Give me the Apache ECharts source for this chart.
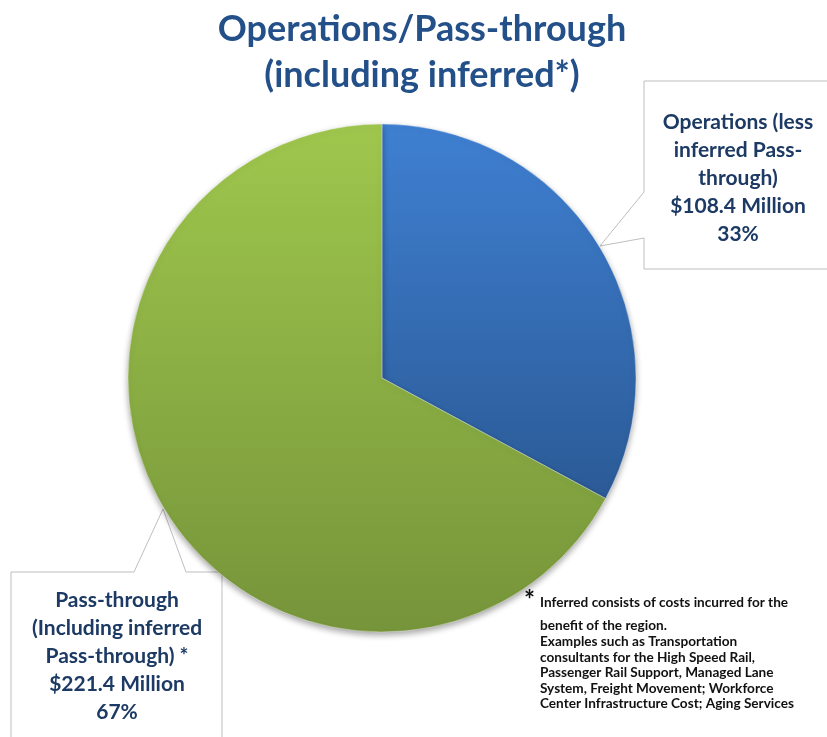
<!DOCTYPE html>
<html>
<head>
<meta charset="utf-8">
<script src="https://cdn.jsdelivr.net/npm/echarts@6/dist/echarts.min.js"></script>
<style>
  html, body { margin: 0; padding: 0; background: #fff; }
  #main { width: 827px; height: 737px; }
</style>
</head>
<body>
<div id="main"></div>
<script>
// slice data
var names = ['Operations (less\ninferred Pass-\nthrough)', 'Pass-through\n(Including inferred\nPass-through) *'];
var values = [108.4, 221.4];
var topColors = ['#3f80d2', '#9fc74d'];
var bottomColors = ['#2b5a96', '#76943a'];

var footLines = [
    'Inferred consists of costs incurred for the',
    'benefit of the region.',
    'Examples such as Transportation',
    'consultants for the High Speed Rail,',
    'Passenger Rail Support, Managed Lane',
    'System, Freight Movement; Workforce',
    'Center Infrastructure Cost; Aging Services'
];

var labelPos = [[738, 178], [117, 656]];

var myChart = echarts.init(document.getElementById('main'));

var pieData = names.map(function (n, i) {
    return {
        name: n,
        value: values[i],
        itemStyle: {
            color: {
                type: 'linear', x: 0, y: 0, x2: 0, y2: 1,
                colorStops: [{ offset: 0, color: topColors[i] }, { offset: 1, color: bottomColors[i] }]
            }
        }
    };
});

var footGraphics = footLines.map(function (t, i) {
    return {
        type: 'text',
        left: 540,
        top: i === 0 ? 596 : 619 + (i - 1) * 15.6,
        z: 5,
        style: { text: t, fill: '#111', font: 'bold 13.6px Lato' }
    };
});
footGraphics.push({
    type: 'text', left: 524, top: 588, z: 5,
    style: { text: '*', fill: '#111', font: 'bold 26px Lato' }
});

var option = {
    backgroundColor: '#fff',
    title: {
        text: 'Operations/Pass-through\n(including inferred*)',
        left: 417,
        top: 1,
        textAlign: 'center',
        textStyle: {
            color: '#24508a',
            fontFamily: 'Lato',
            fontWeight: 'bold',
            fontSize: 36,
            lineHeight: 46
        }
    },
    graphic: [
        {
            type: 'polygon', z: 1,
            shape: { points: [[644, 81], [840, 81], [840, 269], [644, 269], [644, 238], [600, 246], [644, 192]] },
            style: { fill: '#fff', stroke: '#bfbfbf', lineWidth: 1 }
        },
        {
            type: 'polygon', z: 1,
            shape: { points: [[11, 572], [134, 572], [163, 509], [186, 572], [222, 572], [222, 750], [11, 750]] },
            style: { fill: '#fff', stroke: '#bfbfbf', lineWidth: 1 }
        }
    ].concat(footGraphics),
    series: [{
        type: 'pie',
        center: [382, 378],
        radius: 254,
        startAngle: 90,
        z: 2,
        animation: false,
        percentPrecision: 0,
        itemStyle: {
            borderColor: 'rgba(255,255,255,0.35)',
            borderWidth: 1,
            shadowBlur: 6,
            shadowOffsetY: 3,
            shadowColor: 'rgba(0,0,0,0.35)'
        },
        label: {
            show: true,
            formatter: function (p) {
                return p.name + '\n$' + p.value.toFixed(1) + ' Million\n' + p.percent + '%';
            },
            color: '#1c3a64',
            fontFamily: 'Lato',
            fontWeight: 'bold',
            fontSize: 21,
            lineHeight: 28,
            align: 'center',
            overflow: 'none',
            width: 240
        },
        labelLine: { show: false },
        labelLayout: function (params) {
            var pos = labelPos[params.dataIndex];
            return { x: pos[0], y: pos[1], align: 'center', verticalAlign: 'middle' };
        },
        emphasis: { disabled: true },
        data: pieData
    }]
};
myChart.setOption(option);
</script>
</body>
</html>
